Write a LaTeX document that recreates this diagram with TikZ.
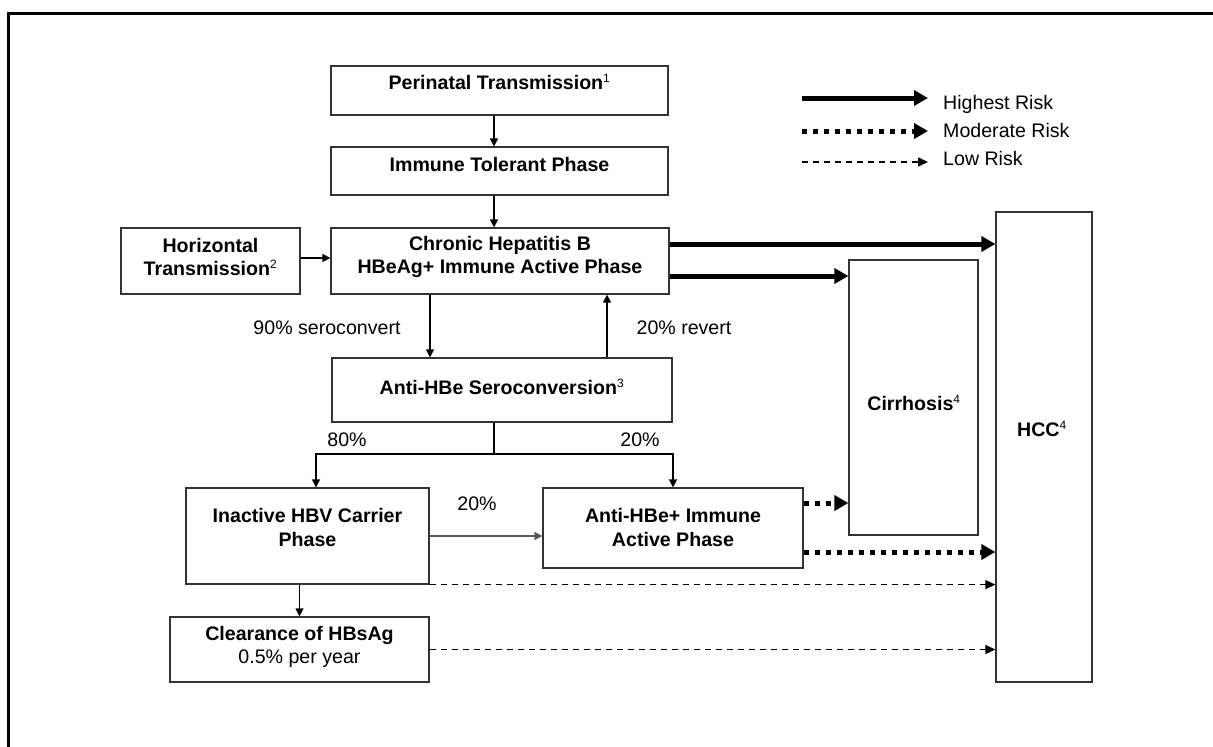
\documentclass[tikz,border=0pt]{standalone}
\usepackage{fontspec}
\setmainfont{Liberation Sans}
\usetikzlibrary{arrows.meta}
\newcommand\fnote[1]{\textsuperscript{\fontsize{12}{12}\selectfont\mdseries #1}}
\tikzset{
  box/.style={draw=black!80, line width=1.2pt, inner sep=0pt},
  txt/.style={font=\fontsize{19.6}{23.5}\selectfont, align=center, inner sep=0pt},
  btxt/.style={txt, font=\fontsize{19.6}{23.5}\selectfont\bfseries},
  arr/.style={line width=1.2pt, -{Triangle[length=8pt,width=8pt]}},
  highrisk/.style={line width=5pt, -{Triangle[length=14pt,width=15pt]}},
  modrisk/.style={line width=5pt, dash pattern=on 5pt off 6pt, -{Triangle[length=14pt,width=15pt]}},
  lowrisk/.style={line width=1.5pt, dash pattern=on 6pt off 5pt, -{Triangle[length=10pt,width=9pt]}},
}
\begin{document}
\begin{tikzpicture}[x=1pt,y=-1pt]
  \useasboundingbox (0,0) rectangle (1213,747);
  \clip (0,0) rectangle (1213,747);
  \draw[line width=2.7pt] (8.5,760) -- (8.5,13.3) -- (1230,13.3);

  \node[box, minimum width=337, minimum height=49] (peri) at (499.5,90.5) {};
  \node[btxt] at (499.5,82) {Perinatal Transmission\fnote{1}};
  \node[box, minimum width=337, minimum height=48] (toler) at (499.5,171) {};
  \node[btxt] at (499.5,164) {Immune Tolerant Phase};
  \node[box, minimum width=179, minimum height=66] (horiz) at (210.5,261) {};
  \node[btxt] at (210.5,257) {Horizontal\\Transmission\fnote{2}};
  \node[box, minimum width=338, minimum height=66] (chronic) at (500,261) {};
  \node[btxt] at (500,257) {Chronic Hepatitis B\\HBeAg+ Immune Active Phase};
  \node[box, minimum width=340, minimum height=64] (sero) at (502,390) {};
  \node[btxt] at (502,387) {Anti-HBe Seroconversion\fnote{3}};
  \node[box, minimum width=243, minimum height=96] (inact) at (307.5,536) {};
  \node[btxt] at (307.5,527.5) {Inactive HBV Carrier\\Phase};
  \node[box, minimum width=260, minimum height=80] (antihbe) at (673,528) {};
  \node[btxt] at (673,527.5) {Anti-HBe+ Immune\\Active Phase};
  \node[box, minimum width=259, minimum height=65] (clear) at (299.5,649.5) {};
  \node[txt] at (299.5,647) {\textbf{Clearance of HBsAg}\\0.5\% per year};
  \node[box, minimum width=129, minimum height=275] (cirr) at (913.5,397.5) {};
  \node[btxt] at (914,403) {Cirrhosis\fnote{4}};
  \node[box, minimum width=96, minimum height=470] (hcc) at (1044,447) {};
  \node[btxt] at (1042,429) {HCC\fnote{4}};

  \node[txt] (l90) at (327,328) {90\% seroconvert};
  \node[txt] (l20r) at (684,328) {20\% revert};
  \node[txt] (l80) at (347,440) {80\%};
  \node[txt] (l20a) at (640,440) {20\%};
  \node[txt] (l20b) at (477,504) {20\%};

  \coordinate (xa) at (494,0);
  \coordinate (xd) at (430,0);
  \coordinate (xu) at (607,0);
  \coordinate (xl) at (316,0);
  \coordinate (split) at (494,454);
  \draw[arr] (peri.south -| xa) -- (toler.north -| xa);
  \draw[arr] (toler.south -| xa) -- (chronic.north -| xa);
  \draw[arr] ([yshift=3pt]horiz.east) -- ([yshift=3pt]chronic.west);
  \draw[arr] (chronic.south -| xd) -- (sero.north -| xd);
  \draw[arr] (sero.north -| xu) -- (chronic.south -| xu);
  \draw[line width=1.2pt] (sero.south -| split) -- (split);
  \draw[arr] (split) -| (xl |- inact.north);
  \draw[arr] (split) -| (antihbe.north);
  \draw[arr, draw=black!65] (inact.east) -- (inact.east -| antihbe.west);
  \draw[arr] (inact.south -| clear.north) -- (clear.north);

  \coordinate (h1) at ([yshift=17pt]chronic.east);
  \coordinate (h2) at ([yshift=-15pt]chronic.east);
  \coordinate (m1) at ([yshift=25pt]antihbe.east);
  \coordinate (m2) at ([yshift=-24pt]antihbe.east);
  \draw[highrisk] (h1) -- (h1 -| hcc.west);
  \draw[highrisk] (h2) -- (h2 -| cirr.west);
  \draw[modrisk] (m1) -- (m1 -| cirr.west);
  \draw[modrisk] (m2) -- (m2 -| hcc.west);
  \draw[lowrisk] (inact.south east) -- (inact.south east -| hcc.west);
  \draw[lowrisk] (clear.east) -- (clear.east -| hcc.west);

  \coordinate (hi-a) at (802,98);
  \coordinate (hi-b) at (928,98);
  \coordinate (mo-a) at (802,131);
  \coordinate (mo-b) at (928,131);
  \coordinate (lo-a) at (802,162);
  \coordinate (lo-b) at (928,162);
  \draw[highrisk] (hi-a) -- (hi-b);
  \draw[modrisk] (mo-a) -- (mo-b);
  \draw[lowrisk] (lo-a) -- (lo-b);
  \node[txt, anchor=base west] (leg-hi) at (943,109) {Highest Risk};
  \node[txt, anchor=base west] (leg-mo) at (943,137) {Moderate Risk};
  \node[txt, anchor=base west] (leg-lo) at (943,165) {Low Risk};
\end{tikzpicture}
\end{document}
